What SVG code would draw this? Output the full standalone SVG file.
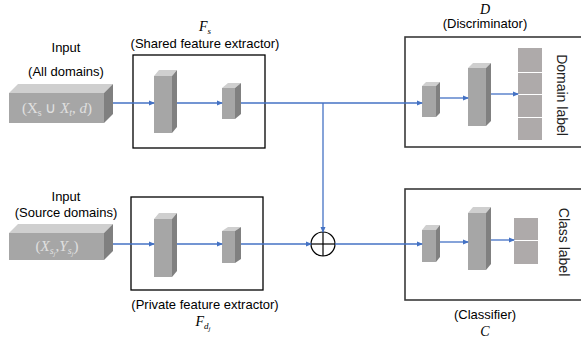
<svg xmlns="http://www.w3.org/2000/svg" width="581" height="343" viewBox="0 0 581 343">
<style>
.lbl{font-family:"Liberation Sans",Arial,sans-serif;font-size:13px;fill:#000;text-anchor:middle}
.math{font-family:"Liberation Serif","Times New Roman",serif;font-style:italic;font-size:14px;fill:#000;text-anchor:middle}
.frm{font-family:"Liberation Serif","Times New Roman",serif;font-size:15px;fill:#e0e0e0;text-anchor:middle}
.rot{font-family:"Liberation Sans",Arial,sans-serif;font-size:14px;fill:#222;text-anchor:middle}
.front{fill:#a6a6a6}
.top{fill:#cfcfcf}
.side{fill:#808080}
.box{fill:none;stroke:#000;stroke-width:1.3}
.box2{fill:none;stroke:#3a3a3a;stroke-width:1.6}
.cell{fill:#aeaaaa}
.ln{stroke:#4472c4;stroke-width:1.3;fill:none}
</style>
<defs>
<marker id="ah" markerWidth="6" markerHeight="6" refX="5" refY="3" orient="auto" markerUnits="userSpaceOnUse">
<path d="M0,0.5 L6,3 L0,5.5 Z" fill="#4472c4"/>
</marker>
</defs>

<g id="input-all">
<text class="lbl" x="66" y="52">Input</text>
<text class="lbl" x="66" y="76">(All domains)</text>
<polygon class="top" points="9,93 18,84 113,84 104,93"/>
<polygon class="side" points="104,93 113,84 113,114 104,123"/>
<rect class="front" x="9" y="93" width="95" height="30"/>
<text class="frm" x="57" y="113">(X<tspan font-size="10" dy="3">s</tspan><tspan dy="-3"> ∪ </tspan><tspan font-style="italic">X</tspan><tspan font-style="italic" font-size="10" dy="3">t</tspan><tspan dy="-3">, </tspan><tspan font-style="italic">d</tspan>)</text>
</g>

<g id="input-source">
<text class="lbl" x="66" y="201">Input</text>
<text class="lbl" x="66" y="217">(Source domains)</text>
<polygon class="top" points="9,233 18,224 113,224 104,233"/>
<polygon class="side" points="104,233 113,224 113,251 104,260"/>
<rect class="front" x="9" y="233" width="95" height="27"/>
<text class="frm" x="57" y="251">(<tspan font-style="italic">X</tspan><tspan font-style="italic" font-size="10" dy="3">s</tspan><tspan font-style="italic" font-size="7" dy="2">j</tspan><tspan dy="-5">,</tspan><tspan font-style="italic">Y</tspan><tspan font-style="italic" font-size="10" dy="3">s</tspan><tspan font-style="italic" font-size="7" dy="2">j</tspan><tspan dy="-5">)</tspan></text>
</g>

<g id="shared-extractor">
<text class="math" x="205" y="31">F<tspan font-size="9" dy="3">s</tspan></text>
<text class="lbl" x="205" y="48">(Shared feature extractor)</text>
<rect class="box" x="133" y="55" width="132" height="93"/>
<polygon class="top" points="154,76 159,70 177,70 172,76"/>
<polygon class="side" points="172,76 177,70 177,127 172,133"/>
<rect class="front" x="154" y="76" width="18" height="57"/>
<polygon class="top" points="222,88 228,83 241,83 235,88"/>
<polygon class="side" points="235,88 241,83 241,114 235,119"/>
<rect class="front" x="222" y="88" width="13" height="31"/>
</g>

<g id="private-extractor">
<rect class="box" x="131" y="197" width="132" height="93"/>
<polygon class="top" points="154,219 159,213 177,213 172,219"/>
<polygon class="side" points="172,219 177,213 177,271 172,277"/>
<rect class="front" x="154" y="219" width="18" height="58"/>
<polygon class="top" points="222,231 228,227 241,227 235,231"/>
<polygon class="side" points="235,231 241,227 241,259 235,263"/>
<rect class="front" x="222" y="231" width="13" height="32"/>
<text class="lbl" x="205" y="309">(Private feature extractor)</text>
<text class="math" x="203" y="326">F<tspan font-size="9" dy="3">d</tspan><tspan font-size="7" dy="2">j</tspan></text>
</g>

<g id="discriminator">
<text class="math" x="485" y="14">D</text>
<text class="lbl" x="485" y="28">(Discriminator)</text>
<rect class="box2" x="405" y="37" width="180" height="110"/>
<polygon class="top" points="422,86 426,82 440,82 436,86"/>
<polygon class="side" points="436,86 440,82 440,113 436,117"/>
<rect class="front" x="422" y="86" width="14" height="31"/>
<polygon class="top" points="468,68 473,63 491,63 486,68"/>
<polygon class="side" points="486,68 491,63 491,121 486,126"/>
<rect class="front" x="468" y="68" width="18" height="58"/>
<rect class="cell" x="518" y="48" width="24" height="24"/>
<rect class="cell" x="518" y="73" width="24" height="21"/>
<rect class="cell" x="518" y="95" width="24" height="22"/>
<rect class="cell" x="518" y="118" width="24" height="22"/>
<text class="rot" transform="translate(557,95) rotate(90)">Domain label</text>
</g>

<g id="classifier">
<rect class="box2" x="405" y="189" width="180" height="111"/>
<polygon class="top" points="422,230 426,225 440,225 436,230"/>
<polygon class="side" points="436,230 440,225 440,257 436,262"/>
<rect class="front" x="422" y="230" width="14" height="32"/>
<polygon class="top" points="468,213 473,207 491,207 486,213"/>
<polygon class="side" points="486,213 491,207 491,264 486,270"/>
<rect class="front" x="468" y="213" width="18" height="57"/>
<rect class="cell" x="514" y="218" width="24" height="22"/>
<rect class="cell" x="514" y="241" width="24" height="23"/>
<text class="rot" transform="translate(559,242) rotate(90)">Class label</text>
<text class="lbl" x="485" y="319">(Classifier)</text>
<text class="math" x="485" y="336">C</text>
</g>

<g id="sum">
<circle cx="323" cy="244" r="12" fill="none" stroke="#000" stroke-width="1.2"/>
<line x1="311" y1="244" x2="335" y2="244" stroke="#000" stroke-width="1.2"/>
<line x1="323" y1="232" x2="323" y2="256" stroke="#000" stroke-width="1.2"/>
</g>

<g id="connectors">
<line class="ln" x1="113" y1="103" x2="154" y2="103" marker-end="url(#ah)"/>
<line class="ln" x1="177" y1="103" x2="222" y2="103" marker-end="url(#ah)"/>
<line class="ln" x1="241" y1="103" x2="422" y2="103" marker-end="url(#ah)"/>
<line class="ln" x1="323" y1="103" x2="323" y2="232" marker-end="url(#ah)"/>
<line class="ln" x1="113" y1="244" x2="154" y2="244" marker-end="url(#ah)"/>
<line class="ln" x1="177" y1="244" x2="222" y2="244" marker-end="url(#ah)"/>
<line class="ln" x1="241" y1="244" x2="311" y2="244" marker-end="url(#ah)"/>
<line class="ln" x1="335" y1="244" x2="422" y2="244" marker-end="url(#ah)"/>
<line class="ln" x1="440" y1="98" x2="468" y2="98" marker-end="url(#ah)"/>
<line class="ln" x1="491" y1="94" x2="518" y2="94" marker-end="url(#ah)"/>
<line class="ln" x1="440" y1="242" x2="468" y2="242" marker-end="url(#ah)"/>
<line class="ln" x1="491" y1="240" x2="514" y2="240" marker-end="url(#ah)"/>
</g>
</svg>
